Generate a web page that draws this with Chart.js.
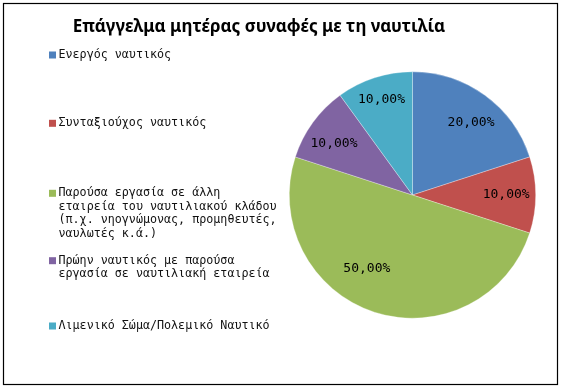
<!DOCTYPE html>
<html>
<head>
<meta charset="utf-8">
<script src="https://cdn.jsdelivr.net/npm/chart.js@4.4.1/dist/chart.umd.min.js"></script>
<style>
  html, body { margin: 0; padding: 0; background: #fff; }
  #wrap { position: relative; width: 563px; height: 391px; }
</style>
</head>
<body>
<div id="wrap"><canvas id="pieChart" width="563" height="391"></canvas></div>
<script>
// Chart data
const chartTitle = "Επάγγελμα μητέρας συναφές με τη ναυτιλία";
const categories = [
  "Ενεργός ναυτικός",
  "Συνταξιούχος ναυτικός",
  "Παρούσα εργασία σε άλλη εταιρεία του ναυτιλιακού κλάδου (π.χ. νηογνώμονας, προμηθευτές, ναυλωτές κ.ά.)",
  "Πρώην ναυτικός με παρούσα εργασία σε ναυτιλιακή εταιρεία",
  "Λιμενικό Σώμα/Πολεμικό Ναυτικό"
];
const percentages = [20, 10, 50, 10, 10];
const sliceColors = ["#4F81BD", "#C0504D", "#9BBB59", "#8064A2", "#4BACC6"];

// layout bits (Excel placed these by hand, so do we)
const legendLineY = [55, 123.3, 193.3, 260.7, 326];
const labelTweak = [[3, 0.755], [0, 0.76], [14, 0.70], [-3, 0.76], [0, 0.815]];
const monoFont = "11.7px 'DejaVu Sans Mono'";
const labelFont = "13px 'DejaVu Sans Mono'";

function fmtPct(v) {
  return v.toFixed(2).replace(".", ",") + "%";
}

function wrapWords(ctx, text, maxW) {
  const words = text.split(" ");
  const lines = [];
  let cur = "";
  words.forEach(w => {
    const test = cur ? cur + " " + w : w;
    if (cur && ctx.measureText(test).width > maxW) {
      lines.push(cur);
      cur = w;
    } else {
      cur = test;
    }
  });
  if (cur) lines.push(cur);
  return lines;
}

const excelLook = {
  id: "excelLook",
  afterDraw(chart) {
    const ctx = chart.ctx;
    ctx.save();

    // outer frame
    ctx.strokeStyle = "#000";
    ctx.lineWidth = 1.2;
    ctx.strokeRect(3.5, 3.5, 554, 381);

    // title
    ctx.fillStyle = "#000";
    ctx.font = "bold 17px 'Noto Sans'";
    ctx.textAlign = "center";
    ctx.textBaseline = "middle";
    ctx.fillText(chartTitle, 259, 27);

    // legend
    ctx.textAlign = "left";
    ctx.font = monoFont;
    categories.forEach((name, i) => {
      const lines = wrapWords(ctx, name, 222);
      const y0 = legendLineY[i];
      ctx.fillStyle = sliceColors[i];
      ctx.fillRect(49, y0 - 3.5, 7, 7);
      ctx.fillStyle = "#111";
      lines.forEach((ln, k) => ctx.fillText(ln, 58.5, y0 + k * 13.4));
    });

    // data labels
    const meta = chart.getDatasetMeta(0);
    ctx.font = labelFont;
    ctx.textAlign = "center";
    ctx.fillStyle = "#000";
    meta.data.forEach((arc, i) => {
      const p = arc.getProps(["x", "y", "startAngle", "endAngle", "outerRadius"], true);
      const mid = (p.startAngle + p.endAngle) / 2 + labelTweak[i][0] * Math.PI / 180;
      const r = p.outerRadius * labelTweak[i][1];
      ctx.fillText(fmtPct(percentages[i]), p.x + Math.cos(mid) * r, p.y + Math.sin(mid) * r);
    });

    ctx.restore();
  }
};

const ctx = document.getElementById("pieChart").getContext("2d");
const pieChart = new Chart(ctx, {
  type: "pie",
  data: {
    labels: categories,
    datasets: [
      {
        data: percentages,
        backgroundColor: sliceColors,
        borderColor: "rgba(255,255,255,0.5)",
        borderWidth: 0.6,
      },
    ],
  },
  options: {
    responsive: false,
    animation: false,
    layout: {
      padding: { left: 289, right: 27, top: 71.5, bottom: 72.5 },
    },
    plugins: {
      legend: { display: false },
      title: { display: false },
      tooltip: { enabled: false },
    },
  },
  plugins: [excelLook],
});
</script>
</body>
</html>
